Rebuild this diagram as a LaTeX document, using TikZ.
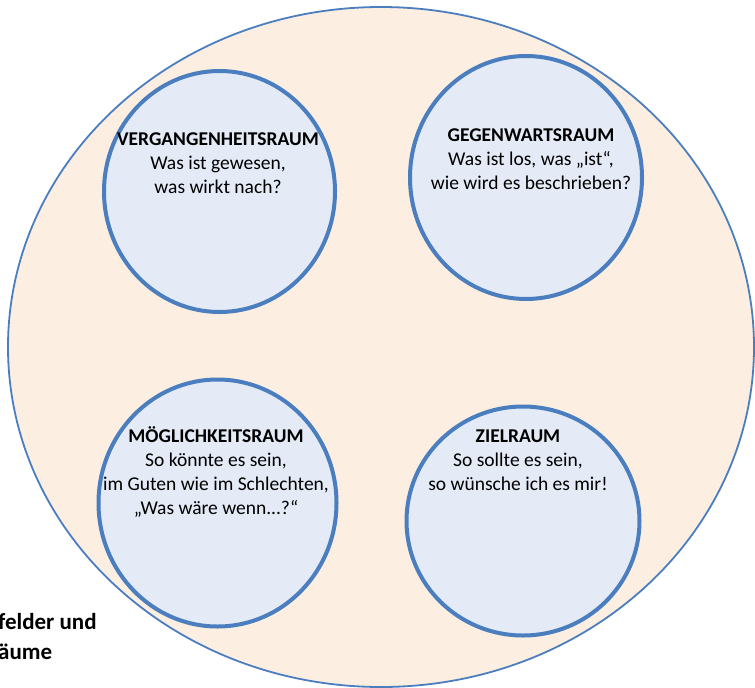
\documentclass[tikz,border=0pt]{standalone}
\usepackage{fontspec}
\setmainfont{Carlito}
\usetikzlibrary{shapes.geometric}
\definecolor{rimblue}{HTML}{4A7EBF}
\definecolor{peach}{HTML}{FDEEE2}
\definecolor{paleblue}{HTML}{E4EAF6}

\begin{document}
\begin{tikzpicture}[x=1pt,y=-1pt,
  field/.style={ellipse, draw=rimblue, line width=4pt, fill=paleblue, inner sep=0pt},
  caption/.style={align=center, font=\fontsize{19.5}{24}\selectfont, text=black, inner sep=0pt},
  sidenote/.style={align=left, font=\fontsize{23}{30}\selectfont\bfseries, text=black, inner sep=0pt}
]
\useasboundingbox (0,0) rectangle (755,688);

% outer field
\node[ellipse, draw=rimblue, line width=1.8pt, fill=peach, minimum width=746pt,
      minimum height=680pt, inner sep=0pt] (outer) at (381,347) {};

% four rooms
\node[field, minimum width=231pt, minimum height=241pt] (past)    at (219.5,191.5) {};
\node[field, minimum width=232pt, minimum height=243pt] (present) at (526,177.5) {};
\node[field, minimum width=238pt, minimum height=247pt] (maybe)   at (217.5,503) {};
\node[field, minimum width=233pt, minimum height=229pt] (goal)    at (523,521) {};

% captions (base anchor sits on the last line)
\node[caption, anchor=base] (pasttext) at (218,193)
  {\textbf{VERGANGENHEITSRAUM}\\Was ist gewesen,\\was wirkt nach?};
\node[caption, anchor=base] (presenttext) at (531,189)
  {\textbf{GEGENWARTSRAUM}\\Was ist los, was „ist“,\\wie wird es beschrieben?};
\node[caption, anchor=base] (maybetext) at (216,514)
  {\textbf{MÖGLICHKEITSRAUM}\\So könnte es sein,\\im Guten wie im Schlechten,\\„Was wäre wenn...?“};
\node[caption, anchor=base] (goaltext) at (518,490)
  {\textbf{ZIELRAUM}\\So sollte es sein,\\so wünsche ich es mir!};

% heading fragment at the lower left
\node[sidenote, anchor=base west] (note) at (-2,659) {felder und\\äume};
\end{tikzpicture}
\end{document}
